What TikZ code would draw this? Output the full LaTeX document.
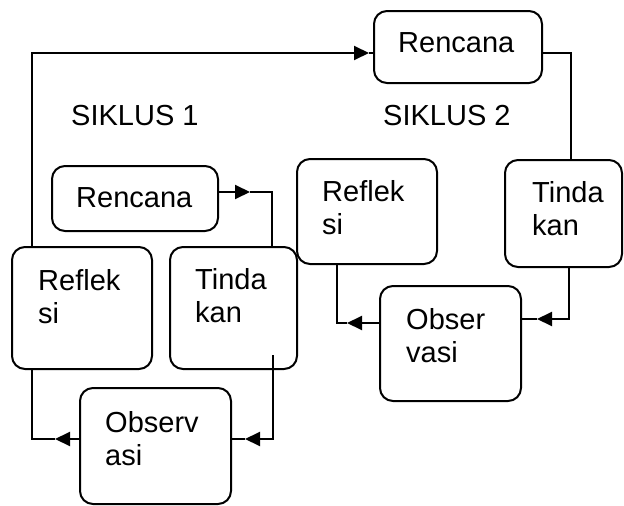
\documentclass[tikz,border=0pt]{standalone}
\usepackage{fontspec}
\setmainfont{Liberation Sans}
\usetikzlibrary{arrows.meta}
\begin{document}
\begin{tikzpicture}[x=1pt,y=-1pt,
  box/.style={draw,line width=2pt,rounded corners=13pt,inner sep=0pt,outer sep=0pt},
  lbl/.style={anchor=base west,inner sep=0pt,align=left,font=\fontsize{29}{33}\selectfont},
  conn/.style={line width=2pt},
  arr/.style={conn,-{Triangle[length=15pt,width=14pt]}}]
\useasboundingbox (0,0) rectangle (624,506);
% boxes
\node[box,minimum width=168pt,minimum height=72pt] (ren2) at (458,47) {};
\node[box,minimum width=166pt,minimum height=65pt] (ren1) at (135,198.5) {};
\node[box,minimum width=140pt,minimum height=122pt] (ref1) at (82,308) {};
\node[box,minimum width=127pt,minimum height=122pt] (tin1) at (233.5,308) {};
\node[box,minimum width=151pt,minimum height=116pt] (obs1) at (155.5,446) {};
\node[box,minimum width=140pt,minimum height=105pt] (ref2) at (367,211.5) {};
\node[box,minimum width=117pt,minimum height=107pt] (tin2) at (563.5,213.5) {};
\node[box,minimum width=141pt,minimum height=115pt] (obs2) at (450.5,343.5) {};
% texts (two-line labels: base = baseline of the last line)
\node[lbl] (t-ren2) at (398,52) {Rencana};
\node[lbl] (t-ren1) at (76,207) {Rencana};
\node[lbl] (t-s1) at (71,125) {SIKLUS 1};
\node[lbl] (t-s2) at (383,125) {SIKLUS 2};
\node[lbl] (t-ref1) at (38,323) {Reflek\\si};
\node[lbl] (t-tin1) at (195,322) {Tinda\\kan};
\node[lbl] (t-obs1) at (105,465) {Observ\\asi};
\node[lbl] (t-ref2) at (322,234) {Reflek\\si};
\node[lbl] (t-tin2) at (532,235) {Tinda\\kan};
\node[lbl] (t-obs2) at (406,362) {Obser\\vasi};
% coordinates
\coordinate (c1) at (32,53);
\coordinate (a1) at (369,53);
\coordinate (k1) at (272,192);
\coordinate (a2) at (250,192);
\coordinate (s3) at (273,355);
\coordinate (k3) at (273,439);
\coordinate (a3) at (245,439);
\coordinate (k4) at (32,439);
\coordinate (a4) at (55,439);
\coordinate (k5) at (571,53);
\coordinate (k6) at (569,319);
\coordinate (a6) at (537,319);
\coordinate (k7) at (337,323);
\coordinate (a7) at (347,323);
% connectors
\draw[arr] (ref1.north -| c1) -- (c1) -- (a1);
\draw[conn] (a1) -- (ren2.west |- a1);
\draw[arr] (ren1.east |- k1) -- (a2);
\draw[conn] (a2) -- (k1) -- (tin1.north -| k1);
\draw[arr] (s3) -- (k3) -- (a3);
\draw[conn] (a3) -- (obs1.east |- a3);
\draw[arr] (obs1.west |- a4) -- (a4);
\draw[conn] (a4) -- (k4) -- (ref1.south -| k4);
\draw[conn] (ren2.east |- k5) -- (k5) -- (tin2.north -| k5);
\draw[arr] (tin2.south -| k6) -- (k6) -- (a6);
\draw[conn] (a6) -- (obs2.east |- a6);
\draw[arr] (obs2.west |- a7) -- (a7);
\draw[conn] (a7) -- (k7) -- (ref2.south -| k7);
\end{tikzpicture}
\end{document}
